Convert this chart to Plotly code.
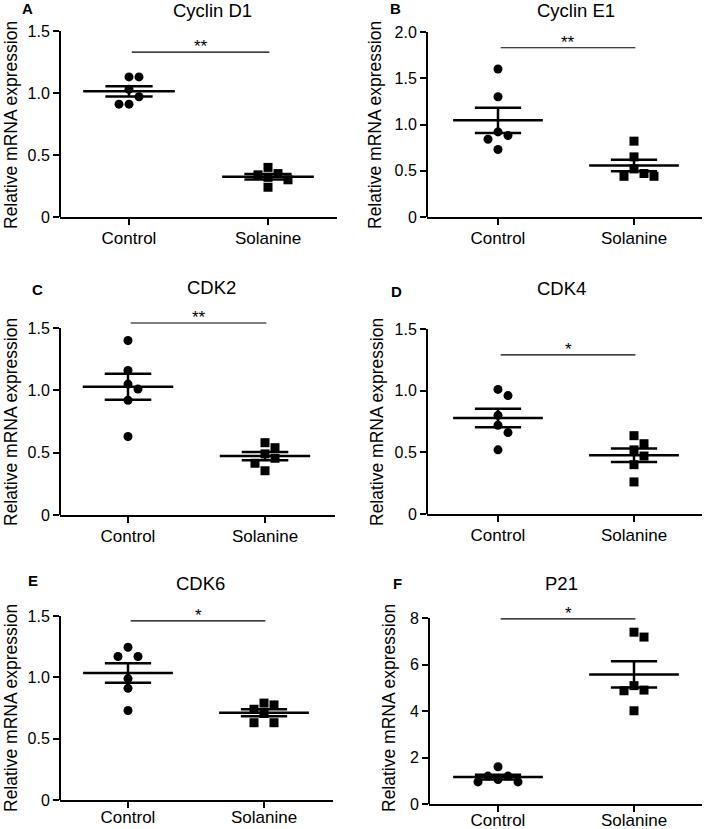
import numpy as np
import plotly.graph_objects as go

W, H = 709, 829

# ---------------- data ----------------
titles = ["Cyclin D1", "Cyclin E1", "CDK2", "CDK4", "CDK6", "P21"]
letters = ["A", "B", "C", "D", "E", "F"]
group_labels = ["Control", "Solanine"]

control_vals = [
    [1.13, 1.13, 1.03, 0.97, 0.91, 0.91],
    [1.60, 1.30, 0.92, 0.88, 0.84, 0.73],
    [1.40, 1.16, 1.05, 1.01, 0.92, 0.63],
    [1.01, 0.96, 0.80, 0.72, 0.66, 0.52],
    [1.245, 1.17, 1.17, 0.99, 0.91, 0.73],
    [1.60, 1.20, 1.20, 1.05, 0.95, 0.95],
]
solanine_vals = [
    [0.40, 0.35, 0.34, 0.32, 0.30, 0.24],
    [0.82, 0.65, 0.52, 0.47, 0.44, 0.44],
    [0.58, 0.54, 0.49, 0.455, 0.415, 0.355],
    [0.635, 0.57, 0.52, 0.47, 0.40, 0.26],
    [0.79, 0.775, 0.74, 0.705, 0.63, 0.63],
    [7.39, 7.18, 5.09, 4.90, 4.87, 4.01],
]
sig_stars = ["**", "**", "**", "*", "*", "*"]
sig_level = [1.33, 1.83, 1.54, 1.29, 1.46, 7.96]
y_tick_vals = [
    [0, 0.5, 1.0, 1.5],
    [0, 0.5, 1.0, 1.5, 2.0],
    [0, 0.5, 1.0, 1.5],
    [0, 0.5, 1.0, 1.5],
    [0, 0.5, 1.0, 1.5],
    [0, 2, 4, 6, 8],
]
y_tick_text = [
    ["0", "0.5", "1.0", "1.5"],
    ["0", "0.5", "1.0", "1.5", "2.0"],
    ["0", "0.5", "1.0", "1.5"],
    ["0", "0.5", "1.0", "1.5"],
    ["0", "0.5", "1.0", "1.5"],
    ["0", "2", "4", "6", "8"],
]

# ---------------- layout geometry (pixels) ----------------
# x0, x1 : axis extent ; cx, sx : control / solanine tick ; y0 : zero ; yt : top tick
geom = [
    dict(x0=60, x1=337, cx=129, sx=268, y0=217, yt=31),
    dict(x0=427, x1=702, cx=498, sx=634, y0=217, yt=32),
    dict(x0=60, x1=335, cx=128, sx=265, y0=515, yt=328),
    dict(x0=427, x1=702, cx=498, sx=634, y0=514, yt=329),
    dict(x0=60, x1=333, cx=128, sx=264, y0=800, yt=616),
    dict(x0=429, x1=702, cx=498, sx=634, y0=804, yt=618),
]
label_standoff = [-1, -1, -1, -1, -5, -6]
title_pos = [(213, 10), (576, 10), (212, 287), (561, 288), (200, 583), (561, 583)]
letter_pos = [(27, 8), (395, 8), (37, 290), (396, 291), (33, 580), (397, 583)]
ytitle_pos = [(11, 125), (375, 125), (11, 422), (377, 422), (11, 708), (389, 708)]

FONT = "Liberation Sans, Arial, sans-serif"
MEAN_HW = 0.33
SEM_HW = 0.17
DOT = 10  # px spacing for swarm


def swarm_offsets(vals, ppu_y, ppu_x, d=DOT):
    vals = np.asarray(vals, dtype=float)
    order = np.argsort(-vals, kind="stable")
    placed = []
    offs = np.zeros(len(vals))
    cand = [0]
    for k in range(1, 8):
        cand += [k, -k]
    for i in order:
        y = vals[i] * ppu_y
        for k in cand:
            x = k * d
            if all((x - px) ** 2 + (y - py) ** 2 >= (0.95 * d) ** 2 for px, py in placed):
                break
        placed.append((x, y))
        offs[i] = x / ppu_x
    return offs


fig = go.Figure()
layout = dict(
    width=W, height=H, margin=dict(l=0, r=0, t=0, b=0, autoexpand=False),
    paper_bgcolor="white", plot_bgcolor="white", showlegend=False,
    font=dict(family=FONT, color="black"),
)
annotations = []
shapes = []

for p in range(6):
    g = geom[p]
    n = p + 1
    xa = "x" if n == 1 else f"x{n}"
    ya = "y" if n == 1 else f"y{n}"
    xkey = "xaxis" if n == 1 else f"xaxis{n}"
    ykey = "yaxis" if n == 1 else f"yaxis{n}"

    ytop = y_tick_vals[p][-1]
    ppu_y = (g["y0"] - g["yt"]) / ytop
    ppu_x = g["sx"] - g["cx"]
    r_top = max(ytop, sig_level[p]) * 1.08
    top_px = g["y0"] - r_top * ppu_y

    xr = [-(g["cx"] - g["x0"]) / ppu_x, 1 + (g["x1"] - g["sx"]) / ppu_x]

    layout[xkey] = dict(
        domain=[g["x0"] / W, g["x1"] / W], range=xr, anchor=ya, automargin=False,
        showline=True, linecolor="black", linewidth=2,
        tickvals=[0, 1], ticktext=group_labels, ticks="outside",
        ticklen=6, tickwidth=2, tickcolor="black",
        tickfont=dict(size=17, family=FONT, color="black"),
        showgrid=False, zeroline=False, fixedrange=True,
        ticklabelstandoff=label_standoff[p],
    )
    layout[ykey] = dict(
        domain=[1 - g["y0"] / H, 1 - top_px / H], range=[0, r_top], anchor=xa,
        automargin=False,
        showline=False, tickvals=y_tick_vals[p], ticktext=y_tick_text[p],
        ticks="outside", ticklen=6, tickwidth=2, tickcolor="black",
        tickfont=dict(size=16, family=FONT, color="black"),
        showgrid=False, zeroline=False, fixedrange=True,
    )
    # y axis line up to top tick
    shapes.append(dict(type="line", xref=f"{xa} domain", yref=ya, x0=0, x1=0,
                       y0=0, y1=ytop, line=dict(color="black", width=2)))

    for gi, (vals, sym) in enumerate([(control_vals[p], "circle"), (solanine_vals[p], "square")]):
        v = np.array(vals)
        offs = swarm_offsets(v, ppu_y, ppu_x)
        fig.add_trace(go.Scatter(
            x=gi + offs, y=v, mode="markers", xaxis=xa, yaxis=ya,
            marker=dict(symbol=sym, size=9, color="black", line=dict(width=0)),
            cliponaxis=False, hoverinfo="skip"))
        m = v.mean()
        sem = v.std(ddof=1) / np.sqrt(len(v))
        # mean line
        fig.add_trace(go.Scatter(x=[gi - MEAN_HW, gi + MEAN_HW], y=[m, m], mode="lines",
                                 xaxis=xa, yaxis=ya, line=dict(color="black", width=2.5),
                                 hoverinfo="skip"))
        # SEM caps and stem
        for s in (m + sem, m - sem):
            fig.add_trace(go.Scatter(x=[gi - SEM_HW, gi + SEM_HW], y=[s, s], mode="lines",
                                     xaxis=xa, yaxis=ya, line=dict(color="black", width=2.5),
                                     hoverinfo="skip"))
        fig.add_trace(go.Scatter(x=[gi, gi], y=[m - sem, m + sem], mode="lines",
                                 xaxis=xa, yaxis=ya, line=dict(color="black", width=2.5),
                                 hoverinfo="skip"))

    # significance bar
    fig.add_trace(go.Scatter(x=[0.02, 1.01], y=[sig_level[p]] * 2, mode="lines",
                             xaxis=xa, yaxis=ya, line=dict(color="black", width=1.2),
                             hoverinfo="skip"))
    annotations.append(dict(x=0.515, y=sig_level[p], xref=xa, yref=ya, text=sig_stars[p],
                            showarrow=False, yanchor="bottom", yshift=-6,
                            font=dict(size=17, family=FONT, color="black")))

    tx, ty = title_pos[p]
    annotations.append(dict(x=tx / W, y=1 - ty / H, xref="paper", yref="paper",
                            text=titles[p], showarrow=False, xanchor="center", yanchor="middle",
                            font=dict(size=18.5, family=FONT, color="black")))
    lx, ly = letter_pos[p]
    annotations.append(dict(x=lx / W, y=1 - ly / H, xref="paper", yref="paper",
                            text=f"<b>{letters[p]}</b>", showarrow=False,
                            xanchor="center", yanchor="middle",
                            font=dict(size=15, family=FONT, color="black")))
    yx, yy = ytitle_pos[p]
    annotations.append(dict(x=yx / W, y=1 - yy / H, xref="paper", yref="paper",
                            text="Relative mRNA expression", showarrow=False, textangle=-90,
                            xanchor="center", yanchor="middle",
                            font=dict(size=17.5, family=FONT, color="black")))

layout["annotations"] = annotations
layout["shapes"] = shapes
fig.update_layout(**layout)
fig.write_html(
    "out.html",
    config={"displayModeBar": False},
    post_script="document.body.style.margin='0px';document.body.style.overflow='hidden';",
)
